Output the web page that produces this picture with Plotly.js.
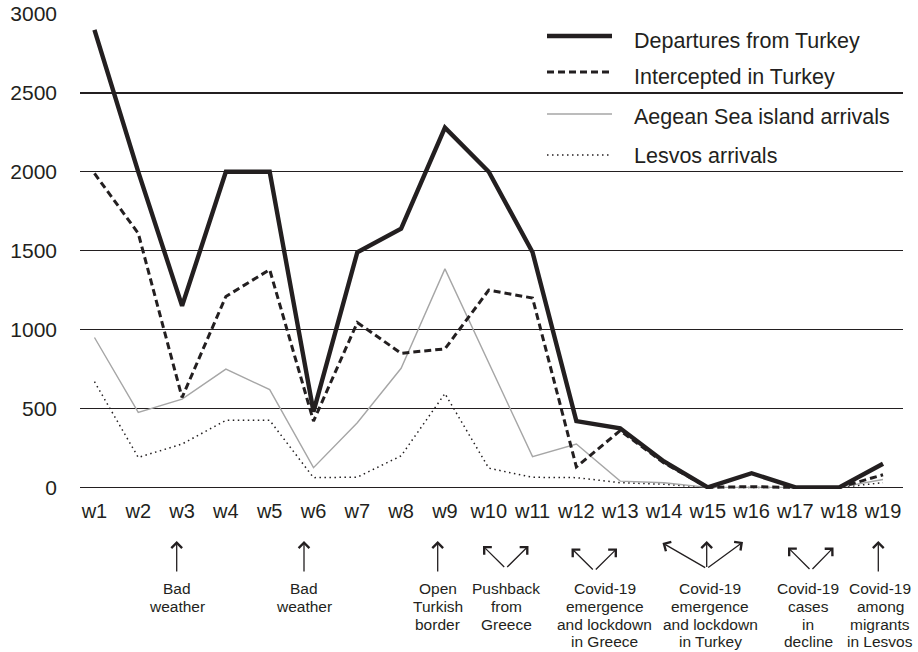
<!DOCTYPE html>
<html>
<head>
<meta charset="utf-8">
<script src="https://cdn.plot.ly/plotly-3.0.1.min.js"></script>
<style>
  html, body { margin: 0; padding: 0; background: #ffffff; }
  #chart { width: 918px; height: 652px; }
</style>
</head>
<body>
<div id="chart"></div>
<script>
// ---- data ----
const weeks = ['w1','w2','w3','w4','w5','w6','w7','w8','w9','w10','w11','w12','w13','w14','w15','w16','w17','w18','w19'];
const departures  = [2900, 2000, 1150, 2000, 2000, 480, 1490, 1640, 2280, 2000, 1490, 420, 375, 165, 0, 90, 0, 0, 150];
const intercepted = [1990, 1610, 570, 1210, 1380, 420, 1045, 850, 878, 1250, 1200, 130, 360, 155, 0, 5, 0, 0, 80];
const aegean      = [950, 475, 560, 750, 620, 125, 410, 755, 1385, 785, 195, 275, 40, 30, 0, 0, 0, 0, 50];
const lesvos      = [670, 190, 275, 425, 425, 62, 65, 200, 595, 122, 64, 62, 30, 20, 0, 0, 0, 0, 30];
const seriesNames = ['Departures from Turkey', 'Intercepted in Turkey', 'Aegean Sea island arrivals', 'Lesvos arrivals'];
const yTicks = [0, 500, 1000, 1500, 2000, 2500, 3000];
const eventLabels = [
  ['Bad', 'weather'],
  ['Bad', 'weather'],
  ['Open', 'Turkish', 'border'],
  ['Pushback', 'from', 'Greece'],
  ['Covid-19', 'emergence', 'and lockdown', 'in Greece'],
  ['Covid-19', 'emergence', 'and lockdown', 'in Turkey'],
  ['Covid-19', 'cases', 'in', 'decline'],
  ['Covid-19', 'among', 'migrants', 'in Lesvos']
];

// ---- layout geometry (pixels) ----
const W = 918, H = 652;
const L = 80, R = 903, T = 14, B = 489;
const INK = '#231f20';
const FONT = '"Liberation Sans", Arial, Helvetica, sans-serif';
const px = X => (X - L) / (R - L);
const py = Y => (B - Y) / (B - T);

const traces = [
  {x: weeks, y: lesvos, name: seriesNames[3], mode: 'lines',
   line: {color: INK, width: 1.5, dash: '1.5px,3.5px'}},
  {x: weeks, y: aegean, name: seriesNames[2], mode: 'lines',
   line: {color: '#a6a6a6', width: 1.4}},
  {x: weeks, y: intercepted, name: seriesNames[1], mode: 'lines',
   line: {color: INK, width: 3, dash: '7px,4px'}},
  {x: weeks, y: departures, name: seriesNames[0], mode: 'lines',
   line: {color: INK, width: 4.4}}
];

// custom legend (long sample lines)
const legendStyles = [
  {color: INK, width: 4.4, dash: 'solid'},
  {color: INK, width: 3, dash: '7px,4px'},
  {color: '#a6a6a6', width: 1.6, dash: 'solid'},
  {color: INK, width: 1.5, dash: '1.5px,3.5px'}
];
const legendLineY = [36, 72, 114, 155];
const legendTextY = [41, 77, 117, 156];
const shapes = [];
const annotations = [];
seriesNames.forEach((nm, i) => {
  shapes.push({type: 'line', xref: 'paper', yref: 'paper',
    x0: px(547), x1: px(612), y0: py(legendLineY[i]), y1: py(legendLineY[i]),
    line: legendStyles[i]});
  annotations.push({xref: 'paper', yref: 'paper', x: px(632), y: py(legendTextY[i]),
    xanchor: 'left', yanchor: 'middle', text: nm, showarrow: false,
    font: {family: FONT, size: 21.5, color: INK}});
});

// event arrows: [headX, headY, tailX, tailY]
const arrows = [
  [176.7, 541, 176.7, 573],
  [304, 541, 304, 573],
  [437.7, 541, 437.7, 573],
  [483, 546, 505.7, 568.5], [528.5, 546, 505.7, 568.5],
  [571.5, 548.5, 594.3, 571], [617, 548.5, 594.3, 571],
  [662.5, 543, 706.7, 568.5], [706.7, 541, 706.7, 568.5], [743, 542, 706.7, 568.5],
  [788, 547.5, 811, 570.5], [833.5, 547.5, 811, 570.5],
  [878.3, 541, 878.3, 573]
];
arrows.forEach(a => {
  annotations.push({xref: 'paper', yref: 'paper', x: px(a[0]), y: py(a[1]),
    ax: a[2] - a[0], ay: a[3] - a[1], axref: 'pixel', ayref: 'pixel',
    text: '', showarrow: true, arrowhead: 4, arrowsize: 1.6, arrowwidth: 1.3,
    arrowcolor: INK, standoff: 0, startstandoff: 0});
});

// event text, line by line
const labelX = [176.7, 304, 437.7, 506.5, 604.5, 710, 808.3, 880.3];
const lineY = [588.5, 606.2, 624, 641.7];
eventLabels.forEach((lines, i) => {
  lines.forEach((t, j) => {
    annotations.push({xref: 'paper', yref: 'paper', x: px(labelX[i]), y: py(lineY[j]),
      xanchor: 'center', yanchor: 'middle', text: t, showarrow: false,
      font: {family: FONT, size: 15.5, color: INK}});
  });
});

const layout = {
  width: W, height: H,
  margin: {l: L, r: W - R, t: T, b: H - B, pad: 0},
  paper_bgcolor: '#ffffff', plot_bgcolor: '#ffffff',
  showlegend: false,
  font: {family: FONT, color: INK},
  xaxis: {
    type: 'category', range: [-0.33, 18.456],
    showgrid: false, zeroline: false, showline: false, ticks: '',
    tickfont: {family: FONT, size: 20, color: INK},
    ticklabelstandoff: 8, fixedrange: true
  },
  yaxis: {
    range: [-10, 3000], tickvals: yTicks, ticktext: yTicks.map(String),
    showgrid: true, gridcolor: INK, gridwidth: 1.3,
    zeroline: false, showline: false, ticks: '',
    tickfont: {family: FONT, size: 21, color: INK},
    ticklabelstandoff: 22, fixedrange: true
  },
  shapes: shapes,
  annotations: annotations
};

Plotly.newPlot('chart', traces, layout, {displayModeBar: false, staticPlot: true});
</script>
</body>
</html>
